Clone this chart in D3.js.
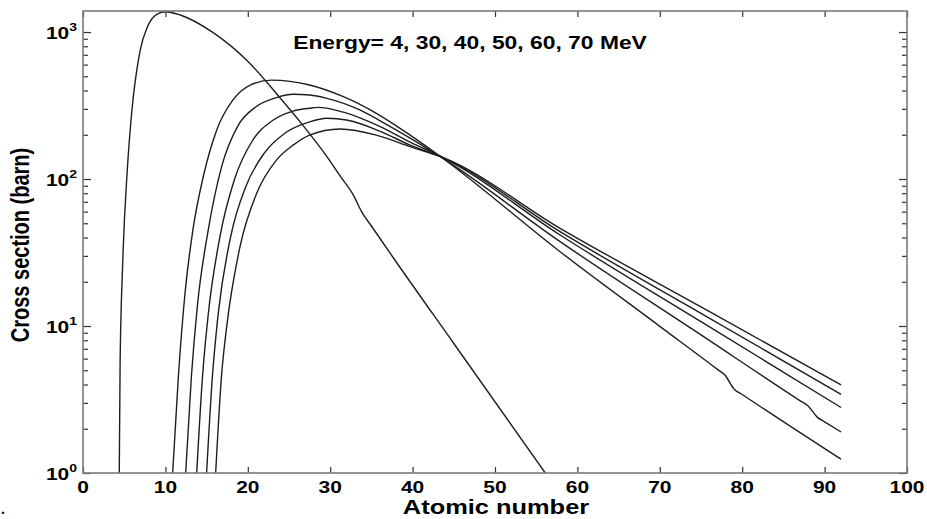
<!DOCTYPE html>
<html>
<head>
<meta charset="utf-8">
<script src="https://cdn.jsdelivr.net/npm/d3@7"></script>
<style>
  body { margin: 0; background: #fff; }
  svg { display: block; }
  text { font-family: "Liberation Sans", Arial, sans-serif; font-weight: bold; fill: #000; }
</style>
</head>
<body>
<div id="chart"></div>
<script>
// x axis (atomic number) and y axis (cross section, barn) ticks
var xTicks = [0, 10, 20, 30, 40, 50, 60, 70, 80, 90, 100];
var yDecades = [1, 10, 100, 1000];
var yExponents = ['0', '1', '2', '3'];
var yMinor = [2, 3, 4, 5, 6, 7, 8, 9, 20, 30, 40, 50, 60, 70, 80, 90, 200, 300, 400, 500, 600, 700, 800, 900];

var titleText = 'Energy= 4, 30, 40, 50, 60, 70 MeV';

// one curve per energy
var z4 = [4.4, 4.5, 4.8, 5.4, 5.9, 6.9, 7.9, 9.0, 10.0, 11.8, 15.8, 19.9, 23.8, 26.5, 29.6, 31.2, 32.8, 33.8, 35.0, 37.7, 45.0, 56.1];
var v4 = [1.0, 5.3, 25, 121, 279, 734, 1110, 1325, 1375, 1306, 990, 640, 363, 239, 142, 105, 78, 60, 47.9, 28.9, 7.6, 1.0];

var z30 = [10.88, 11.57, 12.38, 13.39, 14.6, 16.22, 18.2, 20.3, 22.9, 27.5, 31.6, 35.6, 39.7, 43.7, 57.9, 70, 77.0, 77.9, 79.0, 80.0, 92];
var v30 = [1, 4.5, 16.7, 47, 104, 215, 345, 436, 471, 436, 363, 280, 199, 138, 32.0, 9.95, 5.07, 4.64, 3.73, 3.42, 1.24];

var z40 = [12.46, 13.15, 13.9, 15.2, 16.8, 18.8, 21.0, 23.5, 25.5, 27.5, 29.6, 33.6, 36, 39.7, 43.7, 57.9, 75, 87.0, 88.0, 89.1, 90.0, 92];
var v40 = [1, 4.5, 14, 45, 120, 230, 310, 358, 377, 373, 354, 295, 250, 190, 138, 37.5, 8.7, 3.11, 2.86, 2.40, 2.23, 1.90];

var z50 = [13.8, 14.5, 15.2, 16.6, 18.4, 20.5, 23.0, 25.5, 27.5, 28.5, 31.6, 36, 39.7, 43.7, 57.9, 75, 92];
var v50 = [1, 4.5, 12, 40, 100, 180, 250, 290, 303, 307, 285, 228, 178, 140, 41.6, 10.7, 2.79];

var z60 = [15.0, 15.7, 16.4, 17.9, 19.8, 22.0, 24.5, 27.5, 29.6, 32, 36, 39.7, 43.7, 57.9, 75, 92];
var v60 = [1, 4.5, 12, 40, 90, 150, 205, 245, 259, 252, 212, 170, 140, 43.8, 12.2, 3.43];

var z70 = [16.1, 16.8, 17.44, 19.05, 21.08, 23.5, 25.5, 27.5, 31.2, 35.6, 39.7, 43.7, 57.9, 75, 92];
var v70 = [1, 4.5, 9.9, 34.6, 80, 135, 170, 199, 219, 199, 166, 140, 46.2, 13.5, 3.97];

var curves = [[z4, v4], [z30, v30], [z40, v40], [z50, v50], [z60, v60], [z70, v70]];

var w = 927,
  h = 519,
  plotL = 83,
  plotR = 907,
  plotT = 11,
  plotB = 473,
  stretch = 1.27; // text in the picture is wider than it is tall

var svg = d3.select('#chart')
  .append('svg')
  .attr('width', w)
  .attr('height', h);

var xscale = d3.scaleLinear().domain([0, 100]).range([plotL, plotR]);
var yscale = d3.scaleLog().domain([1, 1390]).range([plotB, plotT]);

svg.append('clipPath').attr('id', 'plotclip')
  .append('rect')
  .attr('x', plotL).attr('y', plotT)
  .attr('width', plotR - plotL).attr('height', plotB - plotT);

// curves
var line = d3.line()
  .x(function(d) { return xscale(d[0]); })
  .y(function(d) { return yscale(d[1]); })
  .curve(d3.curveMonotoneX);

svg.append('g')
  .attr('clip-path', 'url(#plotclip)')
  .selectAll('path')
  .data(curves)
  .enter()
  .append('path')
  .attr('d', function(c) {
    return line(c[0].map(function(z, i) { return [z, c[1][i]]; }));
  })
  .attr('fill', 'none')
  .attr('stroke', '#1e1e1e')
  .attr('stroke-width', 1.4);

// ticks, all pointing inward
function styleTicks(g) {
  g.select('.domain').remove();
  g.selectAll('.tick line').attr('stroke', '#333').attr('stroke-width', 1.2);
  g.selectAll('.tick text').remove();
}

svg.append('g').attr('transform', 'translate(0,' + plotB + ')')
  .call(d3.axisBottom(xscale).tickValues(xTicks).tickSize(-6)).call(styleTicks);
svg.append('g').attr('transform', 'translate(0,' + plotT + ')')
  .call(d3.axisTop(xscale).tickValues(xTicks).tickSize(-6)).call(styleTicks);
svg.append('g').attr('transform', 'translate(' + plotL + ',0)')
  .call(d3.axisLeft(yscale).tickValues(yDecades).tickSize(-8)).call(styleTicks);
svg.append('g').attr('transform', 'translate(' + plotL + ',0)')
  .call(d3.axisLeft(yscale).tickValues(yMinor).tickSize(-5)).call(styleTicks);
svg.append('g').attr('transform', 'translate(' + plotR + ',0)')
  .call(d3.axisRight(yscale).tickValues(yDecades).tickSize(-8)).call(styleTicks);
svg.append('g').attr('transform', 'translate(' + plotR + ',0)')
  .call(d3.axisRight(yscale).tickValues(yMinor).tickSize(-5)).call(styleTicks);

// frame
svg.append('rect')
  .attr('x', plotL).attr('y', plotT)
  .attr('width', plotR - plotL).attr('height', plotB - plotT)
  .attr('fill', 'none')
  .attr('stroke', '#7a7a7a')
  .attr('stroke-width', 1.6);

// x tick labels
svg.selectAll('g.xlab')
  .data(xTicks)
  .enter()
  .append('g')
  .attr('class', 'xlab')
  .attr('transform', function(d) { return 'translate(' + xscale(d) + ',' + (plotB + 20) + ') scale(' + stretch + ',1)'; })
  .append('text')
  .attr('text-anchor', 'middle')
  .style('font-size', '16.5px')
  .text(function(d) { return d; });

// y tick labels 10^n
var ylab = svg.selectAll('g.ylab')
  .data(yDecades)
  .enter()
  .append('g')
  .attr('class', 'ylab')
  .attr('transform', function(d) { return 'translate(77,' + (yscale(d) + 7) + ') scale(' + stretch + ',1)'; })
  .append('text')
  .attr('text-anchor', 'end')
  .style('font-size', '16.5px');
ylab.append('tspan').text('10');
ylab.append('tspan')
  .attr('dy', -8)
  .style('font-size', '11px')
  .text(function(d, i) { return yExponents[i]; });

// title
svg.append('g')
  .attr('transform', 'translate(470,49) scale(' + stretch + ',1)')
  .append('text')
  .attr('text-anchor', 'middle')
  .style('font-size', '18px')
  .text(titleText);

// axis labels
svg.append('g')
  .attr('transform', 'translate(496,514) scale(' + stretch + ',1)')
  .append('text')
  .attr('text-anchor', 'middle')
  .style('font-size', '20px')
  .text('Atomic number');

svg.append('g')
  .attr('transform', 'translate(29,245) rotate(-90) scale(1,' + stretch + ')')
  .append('text')
  .attr('text-anchor', 'middle')
  .style('font-size', '20px')
  .text('Cross section (barn)');

svg.append('text')
  .attr('x', 1)
  .attr('y', 514)
  .style('font-size', '14px')
  .text('.');
</script>
</body>
</html>
